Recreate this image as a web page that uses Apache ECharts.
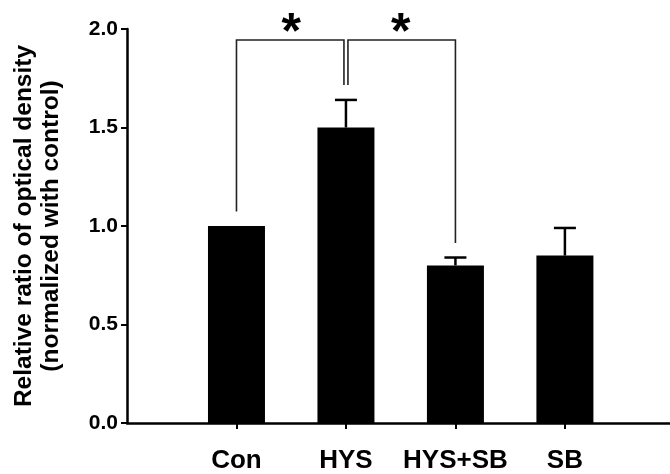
<!DOCTYPE html>
<html>
<head>
<meta charset="utf-8">
<script src="https://cdn.jsdelivr.net/npm/echarts@6/dist/echarts.min.js"></script>
<style>
html,body{margin:0;padding:0;background:#fff;}
#chart{width:670px;height:474px;}
</style>
</head>
<body>
<div id="chart"></div>
<script>
var chart = echarts.init(document.getElementById('chart'));

// 数据
var categories = ['Con', 'HYS', 'HYS+SB', 'SB'];
var positions = [1, 2, 3, 4];
var means = [1.0, 1.5, 0.80, 0.85];
var errors = [0, 0.14, 0.04, 0.14];
// 显著性括号: [左, 右, 顶, 左腿末端, 右腿末端]
var brackets = [
    [1, 2, 1.944, 1.073, 1.716],
    [2, 3, 1.944, 1.716, 0.914]
];
var marks = ['*', '*'];

var barData = positions.map(function (p, i) { return [p, means[i]]; });
var errData = positions.map(function (p, i) { return [p, means[i], errors[i]]; });

var option = {
    backgroundColor: '#fff',
    animation: false,
    grid: { left: 127, top: 29, bottom: 51, width: 543, containLabel: false, outerBoundsMode: 'none' },
    xAxis: {
        type: 'value',
        min: 0,
        max: 4.96,
        splitLine: { show: false },
        axisLine: { lineStyle: { color: '#000', width: 2.5 } },
        axisTick: { show: true, customValues: positions, length: 6, lineStyle: { color: '#000', width: 2 } },
        axisLabel: {
            customValues: positions,
            formatter: function (v) { return categories[positions.indexOf(v)] || ''; },
            color: '#000',
            fontFamily: 'Liberation Sans',
            fontWeight: 'bold',
            fontSize: 26,
            margin: 25
        }
    },
    yAxis: {
        type: 'value',
        min: 0,
        max: 2,
        interval: 0.5,
        splitLine: { show: false },
        axisLine: { show: true, lineStyle: { color: '#000', width: 2.5 } },
        axisTick: { show: true, length: 6, lineStyle: { color: '#000', width: 2 } },
        axisLabel: {
            formatter: function (v) { return v.toFixed(1); },
            color: '#000',
            fontFamily: 'Liberation Sans',
            fontWeight: 'bold',
            fontSize: 21,
            margin: 9
        },
        name: 'Relative ratio of optical density\n(normalized with control)',
        nameLocation: 'middle',
        nameRotate: 90,
        nameGap: 62,
        nameTextStyle: {
            color: '#000',
            fontFamily: 'Liberation Sans',
            fontWeight: 'bold',
            fontSize: 24.5,
            lineHeight: 27
        }
    },
    series: [
        {
            type: 'bar',
            data: barData,
            barWidth: 57,
            itemStyle: { color: '#000' }
        },
        {
            type: 'custom',
            data: errData,
            z: 3,
            renderItem: function (params, api) {
                var top = api.coord([api.value(0), api.value(1) + api.value(2)]);
                var base = api.coord([api.value(0), api.value(1)]);
                if (api.value(2) <= 0) return;
                var st = { stroke: '#000', lineWidth: 2.5 };
                return {
                    type: 'group',
                    children: [
                        { type: 'line', shape: { x1: top[0], y1: base[1], x2: top[0], y2: top[1] }, style: st },
                        { type: 'line', shape: { x1: top[0] - 11, y1: top[1], x2: top[0] + 11, y2: top[1] }, style: st }
                    ]
                };
            }
        },
        {
            type: 'custom',
            data: brackets,
            z: 3,
            renderItem: function (params, api) {
                var l = api.coord([api.value(0), api.value(2)]);
                var r = api.coord([api.value(1), api.value(2)]);
                var lEnd = api.coord([api.value(0), api.value(3)]);
                var rEnd = api.coord([api.value(1), api.value(4)]);
                var mid = api.coord([(api.value(0) + api.value(1)) / 2, 2.0]);
                var lx = l[0] + (params.dataIndex === 1 ? 2 : 0);
                var rx = r[0] - (params.dataIndex === 0 ? 2 : 0);
                var st = { stroke: '#222', lineWidth: 1.6, fill: null };
                return {
                    type: 'group',
                    children: [
                        { type: 'polyline', shape: { points: [[lx, lEnd[1]], [lx, l[1]], [rx, r[1]], [rx, rEnd[1]]] }, style: st },
                        {
                            type: 'text',
                            style: {
                                text: marks[params.dataIndex],
                                x: mid[0], y: mid[1] + 5,
                                align: 'center', verticalAlign: 'middle',
                                fill: '#000', fontFamily: 'Liberation Sans', fontWeight: 'bold', fontSize: 50
                            }
                        }
                    ]
                };
            }
        }
    ]
};
chart.setOption(option);
</script>
</body>
</html>
